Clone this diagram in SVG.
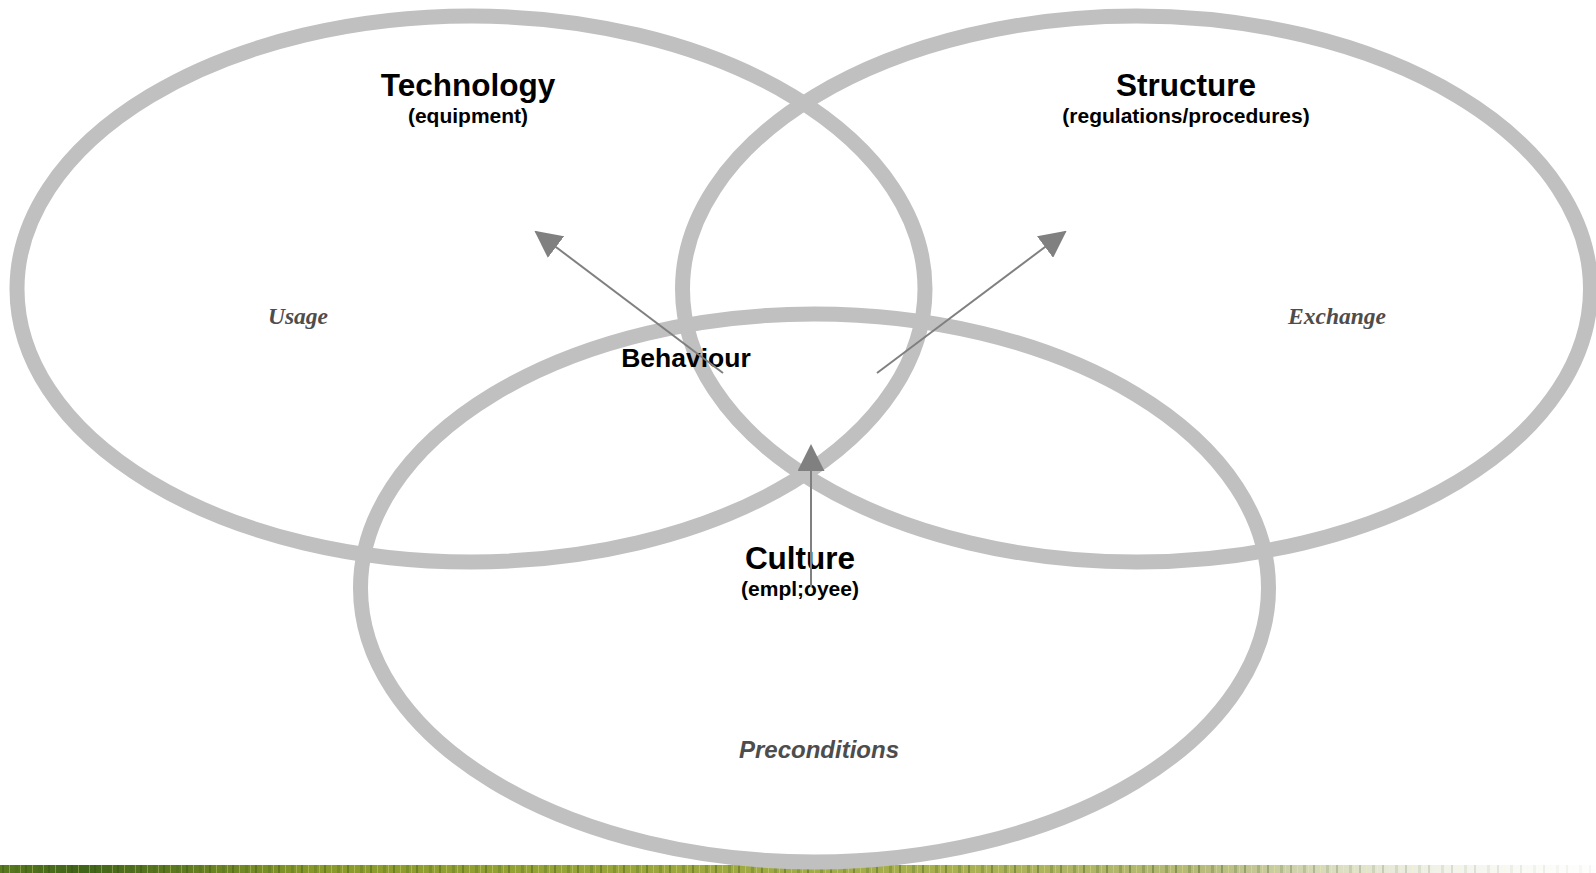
<svg xmlns="http://www.w3.org/2000/svg" width="1596" height="873" viewBox="0 0 1596 873">
  <style>
    .ring { fill: none; stroke: #c0c0c0; stroke-width: 15; }
    .title { font-family: "Liberation Sans", Arial, sans-serif; font-weight: bold; fill: #000; text-anchor: middle; }
    .big { font-size: 31.5px; }
    .sub { font-size: 21px; }
    .serif-it { font-family: "Liberation Serif", "Times New Roman", serif; font-style: italic; font-weight: bold; font-size: 23.5px; fill: #4d4d4d; text-anchor: middle; }
    .sans-it { font-family: "Liberation Sans", Arial, sans-serif; font-style: italic; font-weight: bold; font-size: 24px; fill: #4d4d4d; text-anchor: middle; }
    .conn { stroke: #808080; stroke-width: 2; fill: none; marker-end: url(#arrow); }
  </style>
  <defs>
    <marker id="arrow" markerUnits="userSpaceOnUse" markerWidth="27" markerHeight="27" refX="25" refY="13.5" orient="auto">
      <path d="M0,0 L27,13.5 L0,27 z" fill="#808080"/>
    </marker>
    <linearGradient id="grass" x1="0" y1="0" x2="1" y2="0">
      <stop offset="0" stop-color="#5a7a1e"/>
      <stop offset="0.05" stop-color="#3f6418"/>
      <stop offset="0.2" stop-color="#8a9a2a"/>
      <stop offset="0.4" stop-color="#9aa63a"/>
      <stop offset="0.6" stop-color="#a8b050"/>
      <stop offset="0.78" stop-color="#b8bc80"/>
      <stop offset="0.9" stop-color="#e0e2cc"/>
      <stop offset="1" stop-color="#f4f4ee"/>
    </linearGradient>
    <pattern id="blades" width="23" height="10" patternUnits="userSpaceOnUse">
      <rect x="2" y="0" width="2" height="10" fill="#2f4a10" opacity="0.35"/>
      <rect x="9" y="0" width="1" height="10" fill="#e8ec90" opacity="0.35"/>
      <rect x="15" y="0" width="3" height="10" fill="#40601a" opacity="0.25"/>
      <rect x="20" y="0" width="1" height="10" fill="#f0f0b0" opacity="0.3"/>
    </pattern>
    <linearGradient id="fade" x1="0" y1="0" x2="1" y2="0">
      <stop offset="0" stop-color="#fff" stop-opacity="0"/>
      <stop offset="0.75" stop-color="#fff" stop-opacity="0"/>
      <stop offset="1" stop-color="#fff" stop-opacity="0.9"/>
    </linearGradient>
  </defs>

  <rect width="1596" height="873" fill="#ffffff"/>

  <g id="background-strip">
    <rect x="0" y="865" width="1596" height="8" fill="url(#grass)"/>
    <rect x="0" y="865" width="1596" height="8" fill="url(#blades)"/>
    <rect x="0" y="865" width="1596" height="8" fill="url(#fade)"/>
  </g>

  <g id="technology">
    <ellipse class="ring" cx="471" cy="289" rx="454" ry="273"/>
    <text class="title big" x="468" y="96">Technology</text>
    <text class="title sub" x="468" y="123">(equipment)</text>
    <text class="serif-it" x="298" y="324">Usage</text>
  </g>

  <g id="structure">
    <ellipse class="ring" cx="1136.5" cy="289" rx="454" ry="273"/>
    <text class="title big" x="1186" y="96">Structure</text>
    <text class="title sub" x="1186" y="123">(regulations/procedures)</text>
    <text class="serif-it" x="1337" y="324">Exchange</text>
  </g>

  <g id="culture">
    <ellipse class="ring" cx="814.5" cy="588" rx="454" ry="274"/>
    <text class="title big" x="800" y="569">Culture</text>
    <text class="title sub" x="800" y="596">(empl;oyee)</text>
    <text class="sans-it" x="819" y="758">Preconditions</text>
  </g>

  <g id="behaviour">
    <text class="title" style="font-size:26.5px" x="686" y="367">Behaviour</text>
  </g>

  <g id="connectors">
    <line class="conn" x1="723" y1="373" x2="536" y2="232"/>
    <line class="conn" x1="877" y1="373" x2="1065" y2="232"/>
    <line class="conn" x1="811" y1="587" x2="811" y2="446"/>
  </g>
</svg>
